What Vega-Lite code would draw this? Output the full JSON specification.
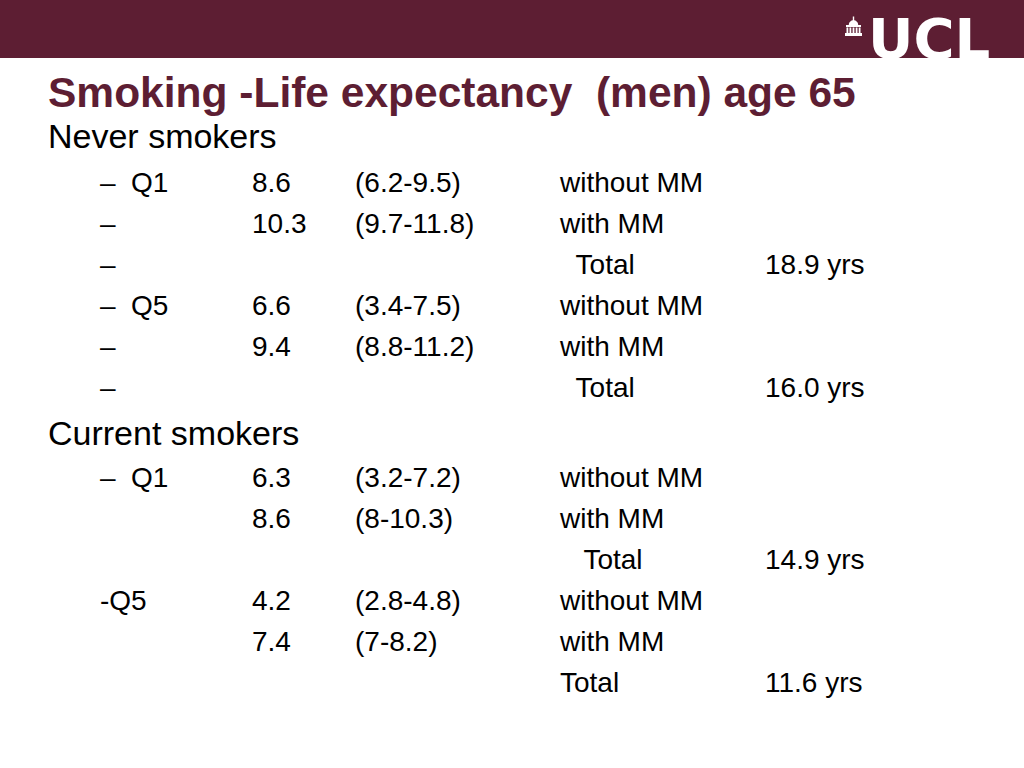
{
  "$schema": "https://vega.github.io/schema/vega-lite/v6.json",
  "autosize": {"type": "fit", "contains": "padding"},
  "width": 1024,
  "height": 768,
  "padding": 0,
  "background": "white",
  "config": {"view": {"stroke": null}, "axis": {"disable": true}},
  "datasets": {
    "slide": [
      {"line": 0, "col": 0, "indent": 0, "kind": "title", "text": "Smoking -Life expectancy\u00a0 (men) age 65"},
      {"line": 1, "col": 0, "indent": 0, "kind": "header", "text": "Never smokers"},
      {"line": 2, "col": 1, "indent": 0, "kind": "body", "text": "–"},
      {"line": 2, "col": 2, "indent": 0, "kind": "body", "text": "Q1"},
      {"line": 2, "col": 3, "indent": 0, "kind": "body", "text": "8.6"},
      {"line": 2, "col": 4, "indent": 0, "kind": "body", "text": "(6.2-9.5)"},
      {"line": 2, "col": 5, "indent": 0, "kind": "body", "text": "without MM"},
      {"line": 3, "col": 1, "indent": 0, "kind": "body", "text": "–"},
      {"line": 3, "col": 3, "indent": 0, "kind": "body", "text": "10.3"},
      {"line": 3, "col": 4, "indent": 0, "kind": "body", "text": "(9.7-11.8)"},
      {"line": 3, "col": 5, "indent": 0, "kind": "body", "text": "with MM"},
      {"line": 4, "col": 1, "indent": 0, "kind": "body", "text": "–"},
      {"line": 4, "col": 5, "indent": 2, "kind": "body", "text": "Total"},
      {"line": 4, "col": 6, "indent": 0, "kind": "body", "text": "18.9 yrs"},
      {"line": 5, "col": 1, "indent": 0, "kind": "body", "text": "–"},
      {"line": 5, "col": 2, "indent": 0, "kind": "body", "text": "Q5"},
      {"line": 5, "col": 3, "indent": 0, "kind": "body", "text": "6.6"},
      {"line": 5, "col": 4, "indent": 0, "kind": "body", "text": "(3.4-7.5)"},
      {"line": 5, "col": 5, "indent": 0, "kind": "body", "text": "without MM"},
      {"line": 6, "col": 1, "indent": 0, "kind": "body", "text": "–"},
      {"line": 6, "col": 3, "indent": 0, "kind": "body", "text": "9.4"},
      {"line": 6, "col": 4, "indent": 0, "kind": "body", "text": "(8.8-11.2)"},
      {"line": 6, "col": 5, "indent": 0, "kind": "body", "text": "with MM"},
      {"line": 7, "col": 1, "indent": 0, "kind": "body", "text": "–"},
      {"line": 7, "col": 5, "indent": 2, "kind": "body", "text": "Total"},
      {"line": 7, "col": 6, "indent": 0, "kind": "body", "text": "16.0 yrs"},
      {"line": 8, "col": 0, "indent": 0, "kind": "header", "text": "Current smokers"},
      {"line": 9, "col": 1, "indent": 0, "kind": "body", "text": "–"},
      {"line": 9, "col": 2, "indent": 0, "kind": "body", "text": "Q1"},
      {"line": 9, "col": 3, "indent": 0, "kind": "body", "text": "6.3"},
      {"line": 9, "col": 4, "indent": 0, "kind": "body", "text": "(3.2-7.2)"},
      {"line": 9, "col": 5, "indent": 0, "kind": "body", "text": "without MM"},
      {"line": 10, "col": 3, "indent": 0, "kind": "body", "text": "8.6"},
      {"line": 10, "col": 4, "indent": 0, "kind": "body", "text": "(8-10.3)"},
      {"line": 10, "col": 5, "indent": 0, "kind": "body", "text": "with MM"},
      {"line": 11, "col": 5, "indent": 3, "kind": "body", "text": "Total"},
      {"line": 11, "col": 6, "indent": 0, "kind": "body", "text": "14.9 yrs"},
      {"line": 12, "col": 1, "indent": 0, "kind": "body", "text": "-Q5"},
      {"line": 12, "col": 3, "indent": 0, "kind": "body", "text": "4.2"},
      {"line": 12, "col": 4, "indent": 0, "kind": "body", "text": "(2.8-4.8)"},
      {"line": 12, "col": 5, "indent": 0, "kind": "body", "text": "without MM"},
      {"line": 13, "col": 3, "indent": 0, "kind": "body", "text": "7.4"},
      {"line": 13, "col": 4, "indent": 0, "kind": "body", "text": "(7-8.2)"},
      {"line": 13, "col": 5, "indent": 0, "kind": "body", "text": "with MM"},
      {"line": 14, "col": 5, "indent": 0, "kind": "body", "text": "Total"},
      {"line": 14, "col": 6, "indent": 0, "kind": "body", "text": "11.6 yrs"},
      {"line": -1, "col": 7, "indent": 0, "kind": "logo", "text": "UCL"}
    ],
    "banner": [{"x0": -1, "x1": 8, "y0": -2, "y1": -1}]
  },
  "resolve": {"scale": {"x": "shared", "y": "shared"}},
  "layer": [
    {
      "data": {"name": "banner"},
      "mark": {"type": "rect", "color": "#5d1e33"},
      "encoding": {
        "x": {"field": "x0", "type": "quantitative", "scale": {"type": "linear", "domain": [-1, 0, 1, 2, 3, 4, 5, 6, 7, 8], "range": [0, 48, 100, 131, 252, 355, 560, 765, 868, 1024], "zero": false, "nice": false}, "axis": null},
        "x2": {"field": "x1"},
        "y": {"field": "y0", "type": "quantitative", "scale": {"type": "linear", "domain": [-2, -1, 0, 1, 2, 7, 8, 9, 14], "range": [0, 58, 107, 148, 192, 397, 445, 487, 692], "zero": false, "nice": false}, "axis": null},
        "y2": {"field": "y1"}
      }
    },
    {
      "data": {"name": "slide"},
      "transform": [{"filter": "datum.kind === 'logo'"}],
      "mark": {"type": "point", "filled": true, "opacity": 1, "color": "#ffffff", "strokeWidth": 0, "size": 4,
        "shape": "M-15.2,-41.5 h1.4 v4 h-1.4 Z M-19.2,-33 A4.7,4.7 0 0 1 -9.8,-33 Z M-22,-33 h15 v2 h-15 Z M-21.5,-30.5 h1.8 v5.5 h-1.8 Z M-18.5,-30.5 h1.8 v5.5 h-1.8 Z M-15.4,-30.5 h1.8 v5.5 h-1.8 Z M-12.3,-30.5 h1.8 v5.5 h-1.8 Z M-9.3,-30.5 h1.8 v5.5 h-1.8 Z M-23,-25 h17 v3 h-17 Z"},
      "encoding": {
        "x": {"field": "col", "type": "quantitative"},
        "y": {"field": "line", "type": "quantitative"}
      }
    },
    {
      "data": {"name": "slide"},
      "transform": [{"filter": "datum.kind === 'logo'"}],
      "mark": {"type": "text", "align": "left", "baseline": "alphabetic", "font": "DejaVu Sans", "fontWeight": "bold", "fontSize": 56, "color": "#ffffff"},
      "encoding": {
        "x": {"field": "col", "type": "quantitative"},
        "y": {"field": "line", "type": "quantitative"},
        "text": {"field": "text"}
      }
    },
    {
      "data": {"name": "slide"},
      "transform": [{"filter": "datum.kind === 'title'"}],
      "mark": {"type": "text", "align": "left", "baseline": "alphabetic", "font": "Liberation Sans", "fontWeight": "bold", "fontSize": 42.5, "color": "#5d1e33"},
      "encoding": {
        "x": {"field": "col", "type": "quantitative"},
        "y": {"field": "line", "type": "quantitative"},
        "text": {"field": "text"}
      }
    },
    {
      "data": {"name": "slide"},
      "transform": [{"filter": "datum.kind === 'header'"}],
      "mark": {"type": "text", "align": "left", "baseline": "alphabetic", "font": "Liberation Sans", "fontSize": 34, "color": "#000000"},
      "encoding": {
        "x": {"field": "col", "type": "quantitative"},
        "y": {"field": "line", "type": "quantitative"},
        "text": {"field": "text"}
      }
    },
    {
      "data": {"name": "slide"},
      "transform": [{"filter": "datum.kind === 'body'"}],
      "mark": {"type": "text", "align": "left", "baseline": "alphabetic", "font": "Liberation Sans", "fontSize": 28, "color": "#000000", "dx": {"expr": "datum.indent * 7.8"}},
      "encoding": {
        "x": {"field": "col", "type": "quantitative"},
        "y": {"field": "line", "type": "quantitative"},
        "text": {"field": "text"}
      }
    }
  ]
}
